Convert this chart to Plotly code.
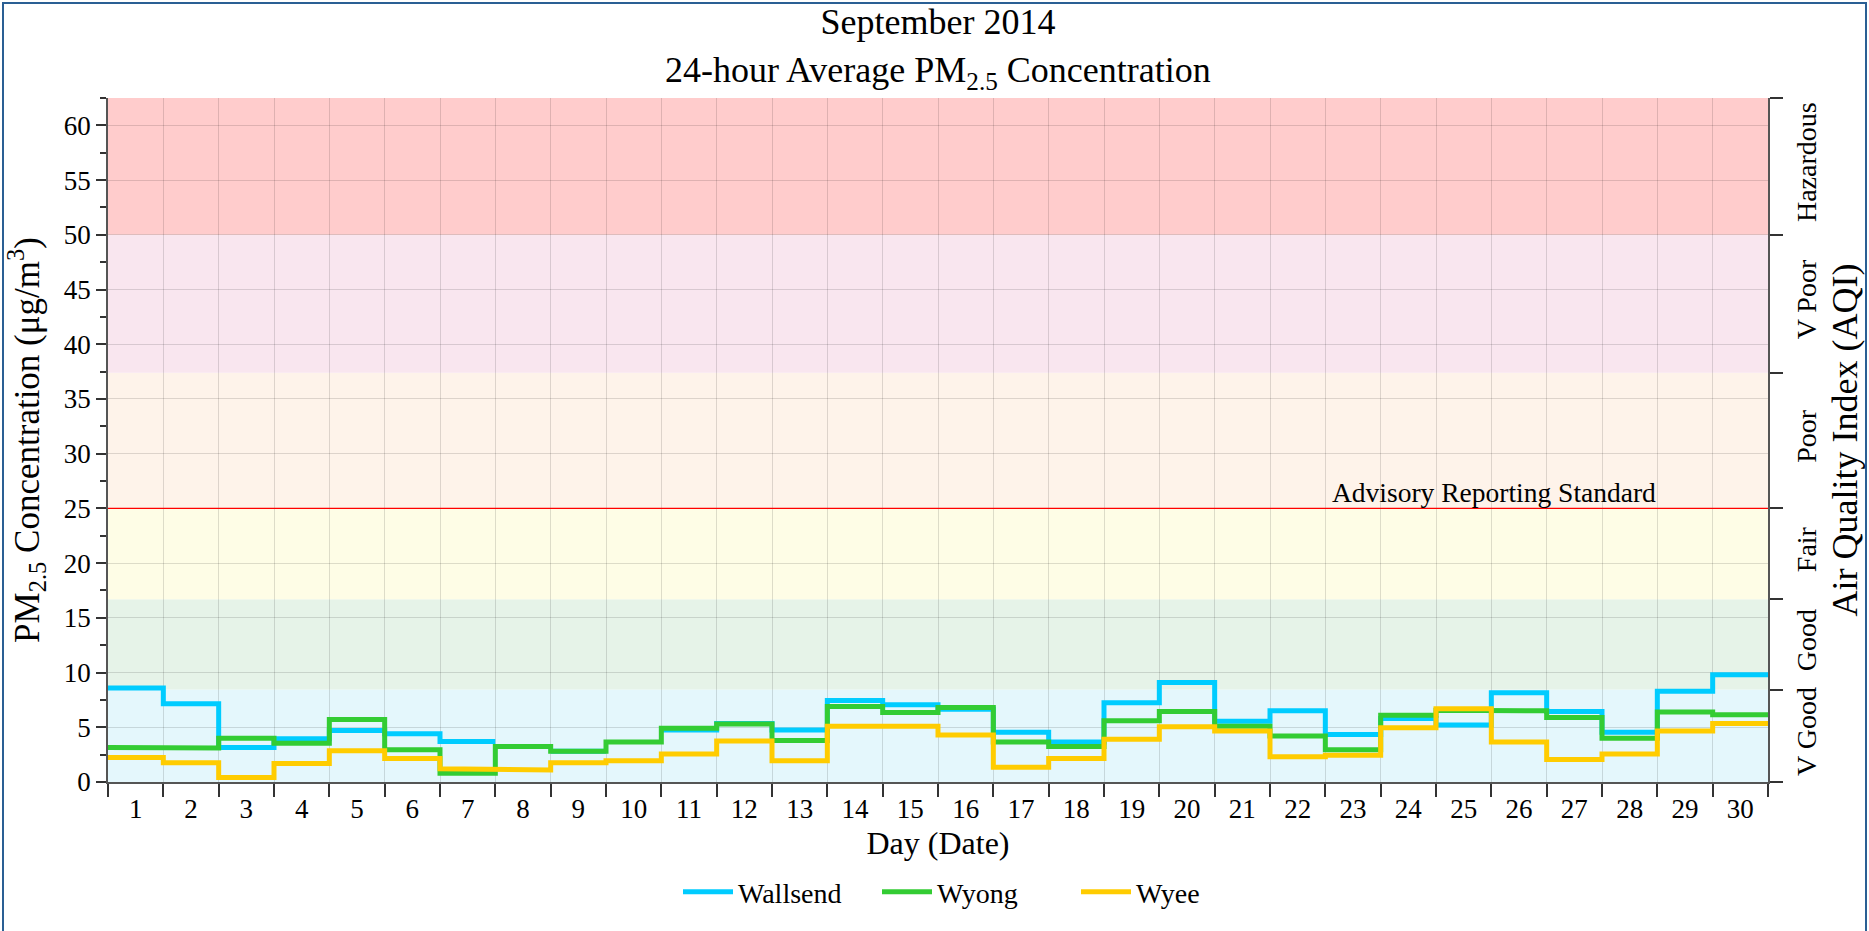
import plotly.graph_objects as go

# ---------------- data ----------------
days = list(range(1, 31))

wallsend = [8.6, 7.15, 3.15, 3.95, 4.7, 4.4, 3.7, None, 2.82, None,
            4.75, 5.35, 4.75, 7.45, 7.05, 6.65, 4.55, 3.65, 7.25, 9.1,
            5.55, 6.5, 4.35, 5.8, 5.2, 8.15, 6.45, 4.55, 8.3, 9.8]
wyong = [3.15, 3.1, 4.0, 3.55, 5.7, 2.95, 0.8, 3.25, 2.8, 3.65,
         4.9, 5.3, 3.8, 6.9, 6.35, 6.8, 3.65, 3.25, 5.6, 6.45,
         5.1, 4.2, 2.95, 6.1, 6.55, 6.5, 5.9, 4.0, 6.4, 6.15]
wyee = [2.25, 1.75, 0.4, 1.7, 2.85, 2.15, 1.2, 1.1, 1.75, 1.95,
        2.55, 3.75, 1.95, 5.1, 5.1, 4.3, 1.35, 2.15, 3.9, 5.05,
        4.65, 2.3, 2.45, 4.95, 6.7, 3.65, 2.05, 2.55, 4.65, 5.35]

series_names = ["Wallsend", "Wyong", "Wyee"]
series_values = [wallsend, wyong, wyee]
series_colors = ["#00CCFF", "#33CC33", "#FFCC00"]

band_edges = [0, 8.45, 16.7, 25, 37.4, 50, 62.5]
band_labels = ["V Good", "Good", "Fair", "Poor", "V Poor", "Hazardous"]
band_colors = ["#E4F7FC", "#E6F3E8", "#FEFDE6", "#FEF3EA", "#F9E6EF", "#FFCCCC"]

standard_value = 25
standard_label = "Advisory Reporting Standard"

title_line1 = "September 2014"
title_line2 = "24-hour Average PM<sub>2.5</sub> Concentration"

FONT = "Liberation Serif"
W, H = 1869, 931
ML, MR, MT, MB = 108, 101, 98, 149
PW, PH = W - ML - MR, H - MT - MB


def step_xy(vals):
    xs, ys = [], []
    prev = None
    for d, v in zip(days, vals):
        if v is None:
            if prev is not None:
                xs.append(None)
                ys.append(None)
            prev = None
            continue
        xs.append(d - 0.5)
        ys.append(v)
        xs.append(d + 0.5)
        ys.append(v)
        prev = v
    return xs, ys


fig = go.Figure()
for name, vals, col in zip(series_names, series_values, series_colors):
    xs, ys = step_xy(vals)
    fig.add_trace(go.Scatter(x=xs, y=ys, mode="lines", name=name,
                             line=dict(color=col, width=5),
                             connectgaps=False))

# invisible trace to anchor right axis
fig.add_trace(go.Scatter(x=[None], y=[None], yaxis="y2", showlegend=False,
                         hoverinfo="skip"))

shapes = []
for lo, hi, c in zip(band_edges[:-1], band_edges[1:], band_colors):
    shapes.append(dict(type="rect", xref="x domain", yref="y", x0=0, x1=1,
                       y0=lo, y1=hi, fillcolor=c, line=dict(width=0),
                       layer="below"))
shapes.append(dict(type="line", xref="x domain", yref="y", x0=0, x1=1,
                   y0=standard_value, y1=standard_value,
                   line=dict(color="#FF0000", width=1.3), layer="above"))
# outer frame
shapes.append(dict(type="rect", xref="paper", yref="paper",
                   x0=(3 - ML) / PW, x1=(1866 - ML) / PW,
                   y0=(H - MB - 936) / PH, y1=(H - MB - 3) / PH,
                   line=dict(color="#2A5F94", width=2),
                   fillcolor="rgba(0,0,0,0)", layer="above"))

band_centers = [(lo + hi) / 2 for lo, hi in zip(band_edges[:-1], band_edges[1:])]

axis_col = "#555555"
grid_col = "rgba(0,0,0,0.13)"

fig.update_layout(
    width=W, height=H,
    margin=dict(l=ML, r=MR, t=MT, b=MB),
    template="none",
    paper_bgcolor="white", plot_bgcolor="white",
    font=dict(family=FONT, size=27, color="black"),
    title=dict(text=title_line1,
               x=0.5, xref="paper", xanchor="center",
               y=1 - 21 / H, yref="container", yanchor="middle",
               font=dict(family=FONT, size=36, color="black")),
    shapes=shapes,
    showlegend=True,
    legend=dict(orientation="h", x=(678 - ML) / PW, xanchor="left",
                y=(H - MB - 892) / PH, yanchor="middle",
                font=dict(family=FONT, size=28), bgcolor="rgba(0,0,0,0)",
                itemwidth=50, entrywidth=134),
    xaxis=dict(range=[0.5, 30.5], tickmode="array", tickvals=days,
               ticktext=[str(d) for d in days],
               ticks="outside", ticklen=2, tickcolor="rgba(0,0,0,0)",
               showgrid=False, zeroline=False,
               showline=True, linecolor=axis_col, linewidth=2,
               tickfont=dict(family=FONT, size=27),
               minor=dict(tickmode="array",
                          tickvals=[d - 0.5 for d in days] + [days[-1] + 0.5],
                          ticks="outside", ticklen=13, tickwidth=1.5,
                          tickcolor="#333333",
                          showgrid=True, gridcolor=grid_col, gridwidth=1),
               title=dict(text="Day (Date)", standoff=8,
                          font=dict(family=FONT, size=32)),
               automargin=False, fixedrange=True),
    yaxis=dict(range=[0, 62.5], tickmode="linear", tick0=0, dtick=5,
               ticks="outside", ticklen=10, tickwidth=1.5, tickcolor="#333333",
               showgrid=True, gridcolor=grid_col, gridwidth=1,
               zeroline=False, showline=True, linecolor=axis_col, linewidth=1.5,
               tickfont=dict(family=FONT, size=27),
               minor=dict(tickmode="linear", tick0=0, dtick=2.5,
                          ticks="outside", ticklen=6, tickwidth=1.5,
                          tickcolor="#333333", showgrid=False),
               title=dict(text="PM<sub>2.5</sub> Concentration (μg/m<sup>3</sup>)",
                          standoff=14, font=dict(family=FONT, size=35)),
               automargin=False, fixedrange=True),
    yaxis2=dict(range=[0, 62.5], overlaying="y", side="right",
                tickmode="array", tickvals=band_centers, ticktext=band_labels,
                tickangle=-90, ticks="outside", ticklen=13,
                tickcolor="rgba(0,0,0,0)",
                showgrid=False, zeroline=False,
                showline=True, linecolor=axis_col, linewidth=1.5,
                tickfont=dict(family=FONT, size=28),
                minor=dict(tickmode="array", tickvals=band_edges,
                           ticks="outside", ticklen=13, tickwidth=1.5,
                           tickcolor="#333333", showgrid=False),
                title=dict(text="Air Quality Index (AQI)", standoff=10,
                           font=dict(family=FONT, size=36)),
                automargin=False, fixedrange=True),
    annotations=[
        dict(x=0.5, y=(H - MB - 72) / PH, xref="paper", yref="paper",
             text=title_line2, showarrow=False,
             xanchor="center", yanchor="middle",
             font=dict(family=FONT, size=36, color="black")),
        dict(x=25.55, y=standard_value, xref="x", yref="y",
             text=standard_label, showarrow=False,
             xanchor="center", yanchor="bottom", yshift=-2,
             font=dict(family=FONT, size=27.5, color="black")),
    ],
)

fig.write_html("out.html", config={"displayModeBar": False},
               post_script="document.body.style.margin='0';")
